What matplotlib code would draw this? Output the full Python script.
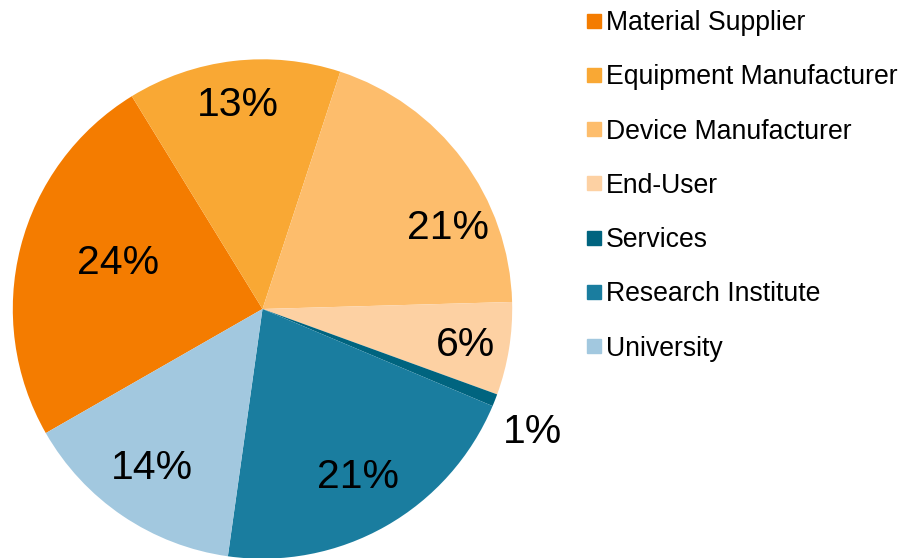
import matplotlib
matplotlib.use("Agg")
import matplotlib.pyplot as plt
import numpy as np
from matplotlib.lines import Line2D

categories = ["Material Supplier", "Equipment Manufacturer", "Device Manufacturer",
              "End-User", "Services", "Research Institute", "University"]
# slice sizes as drawn
shares = [24.5, 13.8, 19.5, 6.0, 0.8, 20.85, 14.5]
# percentage labels as printed on the chart
pct_labels = ["24%", "13%", "21%", "6%", "1%", "21%", "14%"]
colors = ["#F47C00", "#F9A834", "#FDBD6C", "#FDD1A3", "#00647F", "#1A7D9F", "#A2C8DF"]

# label placement per slice: radius fraction and angle shift from slice middle (degrees)
label_r = [0.606, 0.823, 0.811, 0.824, 1.186, 0.773, 0.777]
label_shift = [-3.3, 0.25, -13.25, -0.85, -3.0, 0.2, -0.7]

plt.rcParams['font.family'] = ['Liberation Sans', 'DejaVu Sans']

fig = plt.figure(figsize=(9.02, 5.58), dpi=100)
cx, cy, r = 262.5, 309.0, 249.7
ax = fig.add_axes([(cx - r) / 902, (558 - cy - r) / 558, 2 * r / 902, 2 * r / 558])

wedges, texts = ax.pie(shares, colors=colors, startangle=209.8, counterclock=False,
                       radius=1, wedgeprops=dict(linewidth=0))
for w, lab, rr, sh in zip(wedges, pct_labels, label_r, label_shift):
    mid = np.deg2rad((w.theta1 + w.theta2) / 2 + sh)
    ax.text(rr * np.cos(mid), rr * np.sin(mid), lab, ha="center", va="center",
            fontsize=29.5, color="black", clip_on=False)

ax.set_xlim(-1, 1)
ax.set_ylim(-1, 1)
ax.set_aspect("equal")
ax.axis("off")

handles = [Line2D([], [], marker='s', linestyle='', markersize=10, color=c) for c in colors]
fig.legend(handles, categories, loc="upper left", bbox_to_anchor=(587 / 902, 1 - 10 / 558),
           frameon=False, fontsize=19.2, borderpad=0, borderaxespad=0,
           handlelength=0.55, handletextpad=0.17, labelspacing=1.06)

fig.savefig("out.png", dpi=100)
